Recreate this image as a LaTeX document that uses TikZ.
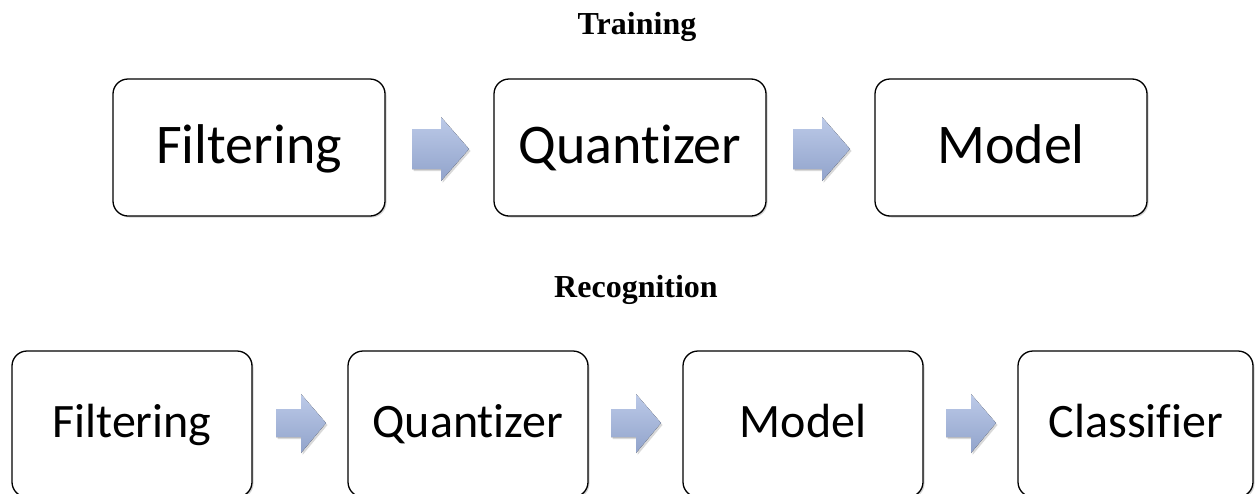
\documentclass[tikz,border=0pt]{standalone}
\usepackage{fontspec}
\setmainfont{Liberation Serif}
\newfontfamily\boxfont[Ligatures=NoCommon]{Carlito}
\usetikzlibrary{shadows}
\definecolor{arrowtop}{HTML}{BCCAE8}
\definecolor{arrowbot}{HTML}{91A3CB}
\tikzset{
  procbox/.style={draw=black, line width=1.3pt, rounded corners=15pt, fill=white,
    drop shadow={shadow xshift=1.5pt, shadow yshift=-1.5pt, opacity=0.35}},
  flowarrow/.style={top color=arrowtop, bottom color=arrowbot, draw=none,
    drop shadow={shadow xshift=1.5pt, shadow yshift=-2pt, opacity=0.3}},
  title/.style={anchor=base, font=\bfseries\fontsize{32}{36}\selectfont},
  bigtxt/.style={anchor=base, font=\boxfont\fontsize{56}{60}\selectfont},
  smalltxt/.style={anchor=base, font=\boxfont\fontsize{48}{52}\selectfont},
}
\begin{document}
\begin{tikzpicture}[x=1pt,y=-1pt]
\useasboundingbox (0,0) rectangle (1255,493);
\node[title] (t1) at (637,34) {Training};
\node[title] (t2) at (636,297) {Recognition};
% top row
\path[procbox] (113,79) rectangle (385,216);
\node[bigtxt] (f1) at (249,163) {Filtering};
\path[procbox] (494,79) rectangle (766,216);
\node[bigtxt] (q1) at (630,163) {Quantizer};
\path[procbox] (875,79) rectangle (1147,216);
\node[bigtxt] (m1) at (1011,163) {Model};
% top arrows
\fill[flowarrow] (412,129) -- (441,129) -- (441,117) -- (469,149) -- (441,181) -- (441,169) -- (412,169) -- cycle;
\fill[flowarrow] (793,129) -- (822,129) -- (822,117) -- (850,149) -- (822,181) -- (822,169) -- (793,169) -- cycle;
% bottom row
\path[procbox] (12,351) rectangle (252,497);
\node[smalltxt] (f2) at (132,437) {Filtering};
\path[procbox] (348,351) rectangle (588,497);
\node[smalltxt] (q2) at (468,437) {Quantizer};
\path[procbox] (683,351) rectangle (923,497);
\node[smalltxt] (m2) at (803,437) {Model};
\path[procbox] (1018,351) rectangle (1253,497);
\node[smalltxt] (c2) at (1136,437) {Classifier};
% bottom arrows
\fill[flowarrow] (276,409) -- (301,409) -- (301,394) -- (326,423) -- (301,453) -- (301,437) -- (276,437) -- cycle;
\fill[flowarrow] (611,409) -- (636,409) -- (636,394) -- (661,423) -- (636,453) -- (636,437) -- (611,437) -- cycle;
\fill[flowarrow] (946,409) -- (971,409) -- (971,394) -- (996,423) -- (971,453) -- (971,437) -- (946,437) -- cycle;
\end{tikzpicture}
\end{document}
